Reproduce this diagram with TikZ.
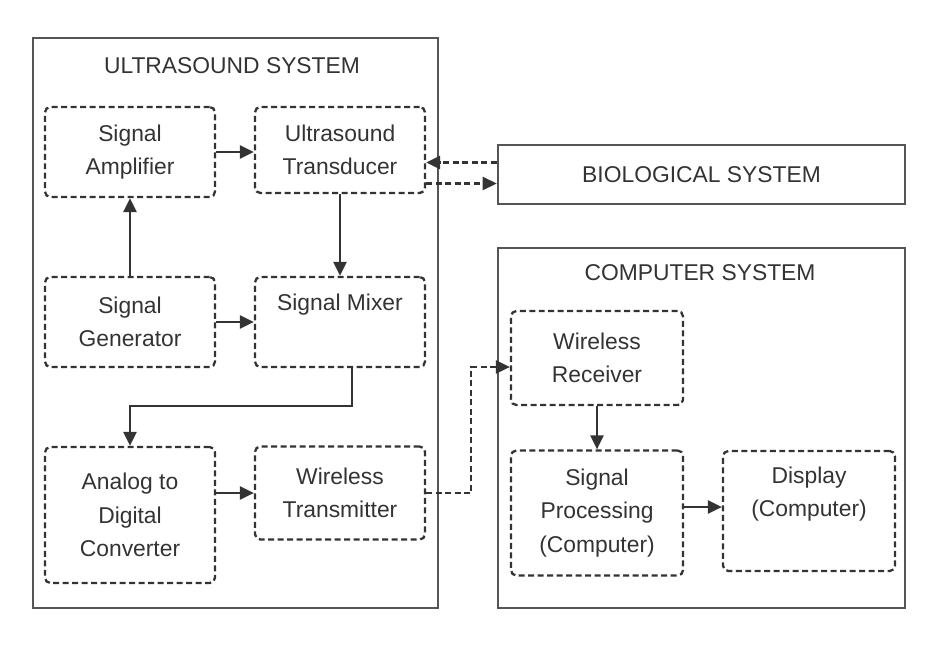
\documentclass[tikz,border=0pt]{standalone}
\usepackage{fontspec}
\setmainfont{Liberation Sans}
\usetikzlibrary{arrows.meta}
\definecolor{linegray}{HTML}{333333}
\definecolor{framegray}{HTML}{555555}
\begin{document}
\begin{tikzpicture}
[x=0.02cm,y=-0.02cm,
 font=\fontsize{13}{19}\selectfont, text=linegray,
 systemframe/.style={draw=framegray,line width=1.5pt},
 unitbox/.style={draw=linegray,line width=1.3pt,dash pattern=on 0.12cm off 0.07cm,
   rounded corners=3pt,align=center,minimum width=3.4cm,inner sep=2pt},
 link/.style={draw=linegray,line width=1.3pt,-{Triangle[length=2.8mm,width=2.6mm]}},
 dashlink/.style={link,dash pattern=on 0.12cm off 0.07cm}]
\useasboundingbox (0,0) rectangle (945,646);
%% the two systems
\draw[systemframe] (33,38) rectangle (438,608);
\draw[systemframe] (498,248) rectangle (905,608);
\node (ustitle) at (232,66) {ULTRASOUND SYSTEM};
\node (pctitle) at (700,273) {COMPUTER SYSTEM};
\node[systemframe,minimum width=8.14cm,minimum height=1.18cm] (bio) at (701.5,174.5) {BIOLOGICAL SYSTEM};
%% units of the ultrasound system
\node[unitbox,minimum height=1.8cm] (amp) at (130,152) {Signal\\Amplifier};
\node[unitbox,minimum height=1.72cm] (trans) at (340,150) {Ultrasound\\Transducer};
\node[unitbox,minimum height=1.8cm] (gen) at (130,322) {Signal\\Generator};
\node[unitbox,minimum height=1.8cm,label={[yshift=0.34cm]center:Signal Mixer}] (mixer) at (340,322) {};
\node[unitbox,minimum height=2.72cm] (adc) at (130,515) {Analog to\\Digital\\Converter};
\node[unitbox,minimum height=1.86cm] (xmit) at (340,493) {Wireless\\Transmitter};
%% units of the computer system
\node[unitbox,minimum width=3.44cm,minimum height=1.88cm] (recv) at (597,358) {Wireless\\Receiver};
\node[unitbox,minimum width=3.44cm,minimum height=2.5cm] (proc) at (597,513) {Signal\\Processing\\(Computer)};
\node[unitbox,minimum width=3.44cm,minimum height=2.4cm,
  label={[yshift=0.34cm,align=center]center:Display\\(Computer)}] (disp) at (809,511) {};
%% connectors
\draw[link] (amp.east) -- (amp.east -| trans.west);
\draw[link] (gen.north) -- (amp.south);
\draw[link] (trans.south) -- (mixer.north);
\draw[link] (gen.east) -- (mixer.west);
\draw[link] ([xshift=0.24cm]mixer.south) -- ++(0,38) -| (adc.north);
\draw[link] (adc.east |- xmit.west) -- (xmit.west);
\draw[dashlink] (xmit.east) -- ++(45,0) |- ([yshift=-0.18cm]recv.west);
\coordinate (bioin) at ([yshift=0.24cm]bio.west);
\coordinate (bioout) at ([yshift=-0.18cm]bio.west);
\draw[dashlink] (bioin) -- (bioin -| trans.east);
\draw[dashlink] (bioout -| trans.east) -- (bioout);
\draw[link] (recv.south) -- (proc.north);
\draw[link] ([yshift=0.12cm]proc.east) -- ([yshift=0.12cm]proc.east -| disp.west);
\end{tikzpicture}
\end{document}
